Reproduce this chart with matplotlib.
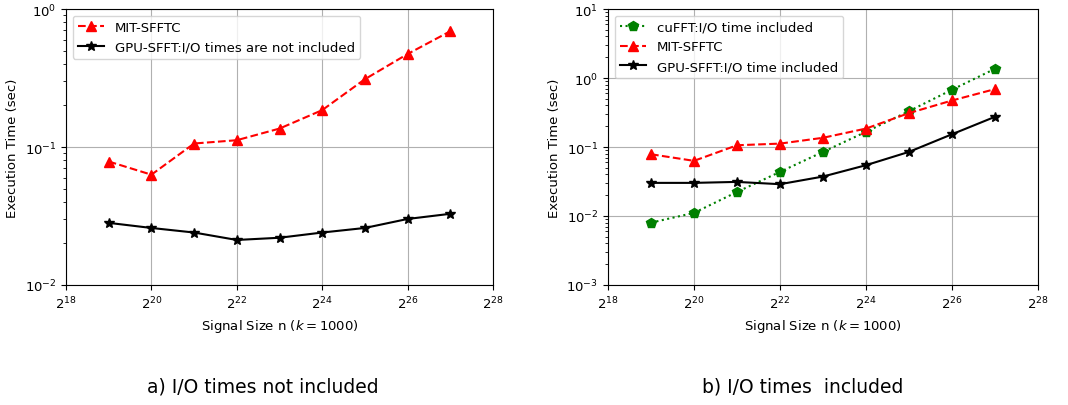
import math
import matplotlib
matplotlib.use("Agg")
import matplotlib.pyplot as plt
from matplotlib.ticker import LogLocator, FixedLocator, FuncFormatter, NullLocator

exponents = [19, 20, 21, 22, 23, 24, 25, 26, 27]
mit_sfftc = [0.0785, 0.063, 0.106, 0.112, 0.136, 0.185, 0.31, 0.472, 0.69]
gpu_sfft_no_io = [0.0282, 0.0259, 0.0240, 0.0212, 0.0220, 0.0240, 0.0259, 0.0301, 0.0328]
cufft_io = [0.0080, 0.0111, 0.0223, 0.0436, 0.085, 0.166, 0.331, 0.676, 1.36]
gpu_sfft_io = [0.0302, 0.0302, 0.0312, 0.0289, 0.0373, 0.0545, 0.085, 0.153, 0.274]
tick_exps = [18, 20, 22, 24, 26, 28]

n = [2.0 ** e for e in exponents]

fig = plt.figure(figsize=(10.68, 4.06), dpi=100)
ax1 = fig.add_axes([66 / 1068, 1 - 286 / 406, 427 / 1068, 276 / 406])
ax2 = fig.add_axes([608 / 1068, 1 - 286 / 406, 430 / 1068, 276 / 406])

def style(ax, ylim):
    ax.set_xscale("log", base=2)
    ax.set_yscale("log")
    ax.set_xlim(2.0 ** 18, 2.0 ** 28)
    ax.set_ylim(*ylim)
    ax.xaxis.set_major_locator(FixedLocator([2.0 ** e for e in tick_exps]))
    ax.xaxis.set_major_formatter(FuncFormatter(lambda v, p: r"$2^{%d}$" % round(math.log2(v))))
    ax.xaxis.set_minor_locator(NullLocator())
    ax.yaxis.set_major_locator(LogLocator(base=10))
    ax.yaxis.set_minor_locator(LogLocator(base=10, subs=range(2, 10)))
    ax.grid(True, which="major", color="#b0b0b0", linewidth=0.8)
    ax.tick_params(labelsize=9.5)
    ax.set_ylabel("Execution Time (sec)", fontsize=9.5)
    ax.set_xlabel(r"Signal Size n ($k = 1000$)", fontsize=9.5)

ax1.plot(n, mit_sfftc, color="red", linestyle="--", marker="^", markersize=7, linewidth=1.5, label="MIT-SFFTC")
ax1.plot(n, gpu_sfft_no_io, color="black", linestyle="-", marker="*", markersize=7, linewidth=1.5,
         label="GPU-SFFT:I/O times are not included")
style(ax1, (1e-2, 1e0))
ax1.legend(loc="upper left", fontsize=9.5)

ax2.plot(n, cufft_io, color="green", linestyle=":", marker="p", markersize=7, linewidth=1.5,
         label="cuFFT:I/O time included")
ax2.plot(n, mit_sfftc, color="red", linestyle="--", marker="^", markersize=7, linewidth=1.5, label="MIT-SFFTC")
ax2.plot(n, gpu_sfft_io, color="black", linestyle="-", marker="*", markersize=7, linewidth=1.5,
         label="GPU-SFFT:I/O time included")
style(ax2, (1e-3, 1e1))
ax2.legend(loc="upper left", fontsize=9.5)

fig.text(263 / 1068, 1 - 387 / 406, "a) I/O times not included", ha="center", va="center",
         fontsize=13.5)
fig.text(803 / 1068, 1 - 387 / 406, "b) I/O times  included", ha="center", va="center",
         fontsize=13.5)

fig.savefig("out.png", dpi=100)
